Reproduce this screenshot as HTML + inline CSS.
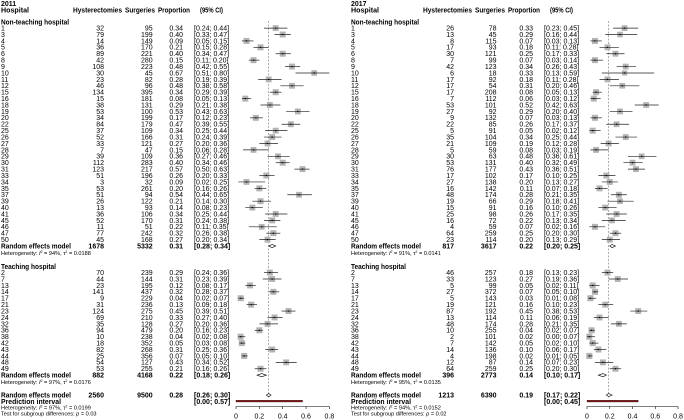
<!DOCTYPE html>
<html><head><meta charset="utf-8"><style>
html,body{margin:0;padding:0;background:#fff;}
svg{display:block;font-family:"Liberation Sans",sans-serif;}
</style></head><body>
<svg id="chart" width="684" height="420" viewBox="0 0 684 420"></svg>
<script>
// ---- 2011 non-teaching
const n11Ids=[1,3,4,5,6,8,9,10,11,12,15,16,18,19,20,22,25,26,27,28,29,30,31,33,34,35,37,39,40,41,45,46,47,50];
const n11Events=[32,79,14,36,89,42,108,30,23,46,134,15,38,53,34,84,37,52,33,7,39,112,123,51,3,53,51,26,13,36,52,11,77,45];
const n11Totals=[95,199,149,170,221,280,223,45,82,96,395,181,131,100,199,179,109,166,121,47,109,283,217,196,32,261,94,122,93,106,170,51,242,168];
const n11Props=[.34,.40,.09,.21,.40,.15,.48,.67,.28,.48,.34,.08,.29,.53,.17,.47,.34,.31,.27,.15,.36,.40,.57,.26,.09,.20,.54,.21,.14,.34,.31,.22,.32,.27];
const n11Lows=[.24,.33,.05,.15,.34,.11,.42,.51,.19,.38,.29,.05,.21,.43,.12,.39,.25,.24,.20,.06,.27,.34,.50,.20,.02,.16,.44,.14,.08,.25,.24,.11,.26,.20];
const n11Highs=[.44,.47,.15,.28,.47,.20,.55,.80,.39,.58,.39,.13,.38,.63,.23,.55,.44,.39,.36,.28,.46,.46,.63,.33,.25,.26,.65,.30,.23,.44,.38,.35,.38,.34];
// ---- 2011 teaching
const t11Ids=[2,7,13,14,17,21,23,24,32,36,38,42,43,44,48,49];
const t11Events=[70,44,23,141,9,31,124,69,35,94,10,18,82,25,54,53];
const t11Totals=[239,144,195,437,229,236,275,210,128,479,238,352,268,356,127,255];
const t11Props=[.29,.31,.12,.32,.04,.13,.45,.33,.27,.20,.04,.05,.31,.07,.43,.21];
const t11Lows=[.24,.23,.08,.28,.02,.09,.39,.27,.20,.16,.02,.03,.25,.05,.34,.16];
const t11Highs=[.36,.39,.17,.37,.07,.18,.51,.40,.36,.23,.08,.08,.36,.10,.52,.26];
// ---- 2017 non-teaching
const n17Ids=[1,3,4,5,6,8,9,10,11,12,15,16,18,19,20,22,25,26,27,28,29,30,31,33,34,35,37,39,40,41,45,46,47,50];
const n17Events=[26,13,8,17,30,7,42,6,17,17,17,7,53,27,9,22,5,35,21,5,30,53,76,17,27,16,48,19,15,25,16,4,64,23];
const n17Totals=[78,45,115,93,121,99,123,18,92,54,208,112,101,92,132,85,91,104,109,59,63,131,177,102,138,142,174,66,91,98,72,59,259,114];
const n17Props=[.33,.29,.07,.18,.25,.07,.34,.33,.18,.31,.08,.06,.52,.29,.07,.26,.05,.34,.19,.08,.48,.40,.43,.17,.20,.11,.28,.29,.16,.26,.22,.07,.25,.20];
const n17Lows=[.23,.16,.03,.11,.17,.03,.26,.13,.11,.20,.05,.03,.42,.20,.03,.17,.02,.25,.12,.03,.36,.32,.36,.10,.13,.07,.21,.18,.10,.17,.13,.02,.20,.13];
const n17Highs=[.45,.44,.13,.28,.33,.14,.43,.59,.28,.46,.13,.12,.63,.40,.13,.37,.12,.44,.28,.19,.61,.49,.51,.25,.27,.18,.35,.41,.26,.35,.34,.16,.30,.29];
// ---- 2017 teaching
const t17Ids=[2,7,13,14,17,21,23,24,32,36,38,42,43,44,48,49];
const t17Events=[46,33,5,27,5,19,87,13,48,10,2,7,14,4,12,64];
const t17Totals=[257,123,99,372,143,121,192,114,174,255,101,142,136,198,87,259];
const t17Props=[.18,.27,.05,.07,.03,.16,.45,.11,.28,.04,.02,.05,.10,.02,.14,.25];
const t17Lows=[.13,.19,.02,.05,.01,.10,.38,.06,.21,.02,.00,.02,.06,.01,.07,.20];
const t17Highs=[.23,.36,.11,.10,.08,.23,.53,.19,.35,.07,.07,.10,.17,.05,.23,.30];
// ---- summaries [events, totals, prop, low, high]
const re11Non=[1678,5332,.31,.28,.34];
const re11Teach=[882,4168,.22,.18,.26];
const re11All=[2560,9500,.28,.26,.30];
const pi11=[0.00,0.57];
const het11=["94%","0.0188","97%","0.0176","97%","0.0199","0.03"];
const re17Non=[817,3617,.22,.20,.25];
const re17Teach=[396,2773,.14,.10,.17];
const re17All=[1213,6390,.19,.17,.22];
const pi17=[0.00,0.45];
const het17=["91%","0.0141","95%","0.0135","94%","0.0152","0.02"];
const axisTicks=[0,0.2,0.4,0.6,0.8];
const tau11=[0.0188,0.0176], tau17=[0.0141,0.0135];

const NS="http://www.w3.org/2000/svg";
const svg=document.getElementById('chart');
function mk(tag,attrs,parent){const e=document.createElementNS(NS,tag);for(const k in attrs)e.setAttribute(k,attrs[k]);(parent||svg).appendChild(e);return e;}
function txt(parent,x,y,s,opt){opt=opt||{};const t=mk('text',{x:x,y:y,'font-size':opt.size||7,'text-anchor':opt.anchor||'start','font-weight':opt.bold?'bold':'normal',fill:'#000'},parent);if(opt.len){t.setAttribute('textLength',opt.len);t.setAttribute('lengthAdjust','spacingAndGlyphs');}t.textContent=s;return t;}
const f2=v=>v.toFixed(2);
const ci=(a,b)=>"["+f2(a)+"; "+f2(b)+"]";

function panel(cfg){
  const g=mk('g',{});
  
  
  const o=cfg.ox;
  const X=v=>cfg.x0+v*cfg.sc;
  const cE=o+104, cN=o+cfg.nEnd, cP=o+183, cC=o+194;
  const rowY=i=>30.5+i*6.41;
  const tRowY=i=>275+i*6.41;
  let t;
  t=txt(g,o+1,6,cfg.year,{bold:true});
  t=txt(g,o+1,12.5,"Hospital",{bold:true,len:28});
  t=txt(g,o+73,12.5,"Hysterectomies",{bold:true,len:49});
  t=txt(g,o+125,12.5,"Surgeries",{bold:true,len:30});
  t=txt(g,o+158,12.5,"Proportion",{bold:true,len:32});
  t=txt(g,o+200,12.5,"(95% CI)",{bold:true,len:23});
  const dl=mk('line',{x1:X(cfg.all[2]),x2:X(cfg.all[2]),y1:21,y2:398,stroke:'#777','stroke-width':0.6,'stroke-dasharray':'2,1.5'},g);
  
  t=txt(g,o+1,24.5,"Non-teaching hospital",{bold:true,len:68});
  t=txt(g,o+1,tRowY(-1)+0.5,"Teaching hospital",{bold:true,len:55});

  function study(y,id,e,n,p,lo,hi,tau){
    const r=mk('g',{},g);
    
    
    txt(r,o+1,y,String(id));
    txt(r,cE,y,String(e),{anchor:'end'});
    txt(r,cN,y,String(n),{anchor:'end'});
    txt(r,cP,y,f2(p),{anchor:'end'});
    txt(r,cC,y,ci(lo,hi));
    const cy=y-2.4;
    const w=1/(p*(1-p)/n+tau), wmax=1/(tau+0.0003);
    const s=2.8+3.2*Math.sqrt(w/wmax);
    const sq=mk('rect',{x:X(p)-s/2,y:cy-s/2,width:s,height:s,fill:'#b3b3b3'},r);
    
    const l=mk('line',{x1:X(lo),x2:X(hi),y1:cy,y2:cy,stroke:'#222','stroke-width':0.7},r);
    
    mk('rect',{x:X(p)-0.6,y:cy-0.6,width:1.2,height:1.2,fill:'#000'},r);
  }
  function summary(y,label,s,isMain){
    const r=mk('g',{},g);
    
    
    txt(r,o+1,y,label,{bold:true,len:70});
    txt(r,cE,y,String(s[0]),{anchor:'end',bold:true});
    txt(r,cN,y,String(s[1]),{anchor:'end',bold:true});
    txt(r,cP,y,f2(s[2]),{anchor:'end',bold:true});
    txt(r,cC,y,ci(s[3],s[4]),{bold:true});
    const cy=y-2.4;
    const d=mk('polygon',{points:[X(s[3])+","+cy,X(s[2])+","+(cy-1.6),X(s[4])+","+cy,X(s[2])+","+(cy+1.6)].join(' '),fill:'#fff',stroke:'#000','stroke-width':0.6},r);
    
  }
  function het(y,i2,t2,name){
    const t=mk('text',{x:o+1,y:y,'font-size':5.6,fill:'#000'},g);
    
    t.innerHTML="Heterogeneity: <tspan font-style='italic'>I</tspan><tspan font-size='3.6' dy='-2'>2</tspan><tspan dy='2'> = "+i2+", τ</tspan><tspan font-size='3.6' dy='-2'>2</tspan><tspan dy='2'> = "+t2+"</tspan>";
  }
  cfg.nIds.forEach((id,i)=>study(rowY(i),id,cfg.nE[i],cfg.nN[i],cfg.nP[i],cfg.nL[i],cfg.nH[i],cfg.tau[0]));
  const nCount=cfg.nIds.length;
  summary(rowY(nCount),"Random effects model",cfg.reN,false);
  het(rowY(nCount)+6.6,cfg.het[0],cfg.het[1],'non-teaching-heterogeneity');
  cfg.tIds.forEach((id,i)=>study(tRowY(i),id,cfg.tE[i],cfg.tN[i],cfg.tP[i],cfg.tL[i],cfg.tH[i],cfg.tau[1]));
  const tc=cfg.tIds.length;
  summary(tRowY(tc),"Random effects model",cfg.reT,false);
  het(tRowY(tc)+6.6,cfg.het[2],cfg.het[3],'teaching-heterogeneity');
  summary(397.5,"Random effects model",cfg.all,true);
  t=txt(g,o+1,403.8,"Prediction interval",{bold:true,len:60});
  t=txt(g,cC,403.8,ci(cfg.pi[0],cfg.pi[1]),{bold:true});
  const pb=mk('rect',{x:X(cfg.pi[0]),y:400.2,width:X(cfg.pi[1])-X(cfg.pi[0]),height:1.8,fill:'#8b1a1a',stroke:'#000','stroke-width':0.3},g);
  
  het(409.6,cfg.het[4],cfg.het[5],'overall-heterogeneity');
  const ts=mk('text',{x:o+1,y:415.6,'font-size':5.6,fill:'#000'},g);
  
  ts.innerHTML="Test for subgroup differences: <tspan font-style='italic'>p</tspan> = "+cfg.het[6];
  const ax=mk('g',{},g);
  
  mk('line',{x1:X(axisTicks[0]),x2:X(axisTicks[axisTicks.length-1]),y1:406.5,y2:406.5,stroke:'#000','stroke-width':0.6},ax);
  axisTicks.forEach(v=>{
    mk('line',{x1:X(v),x2:X(v),y1:406.5,y2:409,stroke:'#000','stroke-width':0.6},ax);
    const tl=txt(ax,X(v),418.5,String(v),{anchor:'middle'});
    
  });
}
panel({name:'panel-2011',year:'2011',ox:0,x0:236,sc:116.7,nEnd:152.7,
  nIds:n11Ids,nE:n11Events,nN:n11Totals,nP:n11Props,nL:n11Lows,nH:n11Highs,
  tIds:t11Ids,tE:t11Events,tN:t11Totals,tP:t11Props,tL:t11Lows,tH:t11Highs,
  reN:re11Non,reT:re11Teach,all:re11All,pi:pi11,het:het11,tau:tau11});
panel({name:'panel-2017',year:'2017',ox:350,x0:587,sc:113.8,nEnd:146.5,
  nIds:n17Ids,nE:n17Events,nN:n17Totals,nP:n17Props,nL:n17Lows,nH:n17Highs,
  tIds:t17Ids,tE:t17Events,tN:t17Totals,tP:t17Props,tL:t17Lows,tH:t17Highs,
  reN:re17Non,reT:re17Teach,all:re17All,pi:pi17,het:het17,tau:tau17});
</script>
</body></html>
